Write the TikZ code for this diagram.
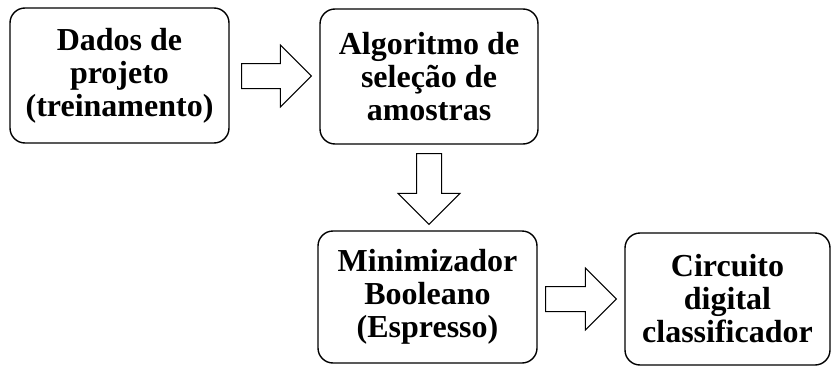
\documentclass[tikz,border=0pt]{standalone}
\usepackage{fontspec}
\setmainfont{Liberation Serif}
\usetikzlibrary{calc}

\tikzset{
  etapa/.style={draw, line width=1.4pt, rounded corners=15pt, align=center,
    inner sep=0pt, font=\bfseries\fontsize{32}{33}\selectfont},
  seta/.style={draw, line width=1pt, fill=white, line join=miter}
}

\begin{document}
\begin{tikzpicture}[x=1pt, y=-1pt]

% Page frame
\useasboundingbox (0,0) rectangle (831,367);

% Blocks
\node[etapa, minimum width=219pt, minimum height=135pt] (dados) at (119.5,75.5) {Dados de\\projeto\\(treinamento)};
\node[etapa, minimum width=218pt, minimum height=135pt] (algoritmo) at (429,76.5) {Algoritmo de\\seleção de\\amostras};
\node[etapa, minimum width=219pt, minimum height=132pt] (minimizador) at (427.5,297) {Minimizador\\Booleano\\(Espresso)};
\node[etapa, minimum width=205pt, minimum height=132pt] (circuito) at (727.5,299) {Circuito\\digital\\classificador};

% Ends of the block arrows
\coordinate (s1) at ($(dados.east)+(12,0.5)$);
\coordinate (e1) at ($(algoritmo.west |- s1)+(-8,0)$);
\coordinate (s2) at ($(algoritmo.south)+(0,9)$);
\coordinate (e2) at ($(minimizador.north -| s2)+(0,-6)$);
\coordinate (s3) at ($(minimizador.east)+(8,2)$);
\coordinate (e3) at ($(circuito.west |- s3)+(-8,0)$);

% Block arrows
\foreach \a/\b in {s1/e1, s2/e2, s3/e3} {
  \coordinate (h) at ($(\b)!31pt!(\a)$);
  \draw[seta] ($(\a)!12.5pt!90:(\b)$) -- ($(h)!12.5pt!90:(\b)$) -- ($(h)!31pt!90:(\b)$)
    -- (\b) -- ($(h)!31pt!-90:(\b)$) -- ($(h)!12.5pt!-90:(\b)$) -- ($(\a)!12.5pt!-90:(\b)$) -- cycle;
}

\end{tikzpicture}
\end{document}
